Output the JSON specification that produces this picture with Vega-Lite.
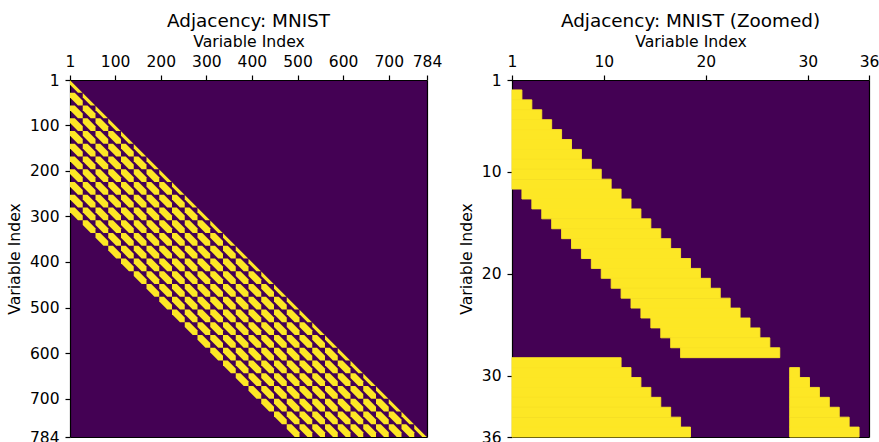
{
 "$schema": "https://vega.github.io/schema/vega-lite/v6.json",
 "padding": {"left": 6, "top": 11, "right": 5, "bottom": 5},
 "bounds": "flush",
 "spacing": 85,
 "config": {
  "font": "DejaVu Sans",
  "view": {"fill": "#440154", "stroke": null},
  "axis": {"labelFontSize": 15.5, "titleFontSize": 15.7, "titleFontWeight": "normal", "labelColor": "#000", "titleColor": "#000", "tickColor": "#000", "domainColor": "#000", "tickSize": 5, "tickWidth": 1.2, "domainWidth": 1.2, "labelPadding": 6, "grid": false, "zindex": 1, "labelFlush": false, "labelOverlap": false, "labelBound": false, "titlePadding": 5},
  "axisLeft": {"titlePadding": 7},
  "title": {"fontSize": 18.4, "fontWeight": "normal", "color": "#000", "frame": "group", "anchor": "middle", "offset": 3}
 },
 "hconcat": [
  {
   "width": 357, "height": 357,
   "title": {"text": "Adjacency: MNIST"},
   "layer": [
    {
     "data": {"values": [
      {"x":14,"y":14,"k":"d"},{"x":42,"y":42,"k":"d"},{"x":70,"y":70,"k":"d"},{"x":98,"y":98,"k":"d"},{"x":126,"y":126,"k":"d"},{"x":154,"y":154,"k":"d"},{"x":182,"y":182,"k":"d"},{"x":210,"y":210,"k":"d"},{"x":238,"y":238,"k":"d"},{"x":266,"y":266,"k":"d"},{"x":294,"y":294,"k":"d"},{"x":322,"y":322,"k":"d"},{"x":350,"y":350,"k":"d"},{"x":378,"y":378,"k":"d"},{"x":406,"y":406,"k":"d"},{"x":434,"y":434,"k":"d"},{"x":462,"y":462,"k":"d"},{"x":490,"y":490,"k":"d"},{"x":518,"y":518,"k":"d"},{"x":546,"y":546,"k":"d"},{"x":574,"y":574,"k":"d"},{"x":602,"y":602,"k":"d"},{"x":630,"y":630,"k":"d"},{"x":658,"y":658,"k":"d"},{"x":686,"y":686,"k":"d"},{"x":714,"y":714,"k":"d"},{"x":742,"y":742,"k":"d"},{"x":770,"y":770,"k":"d"},
      {"x":14,"y":42,"k":"b"},
      {"x":14,"y":70,"k":"b"},{"x":42,"y":70,"k":"b"},
      {"x":14,"y":98,"k":"b"},{"x":42,"y":98,"k":"b"},{"x":70,"y":98,"k":"b"},
      {"x":14,"y":126,"k":"b"},{"x":42,"y":126,"k":"b"},{"x":70,"y":126,"k":"b"},{"x":98,"y":126,"k":"b"},
      {"x":14,"y":154,"k":"b"},{"x":42,"y":154,"k":"b"},{"x":70,"y":154,"k":"b"},{"x":98,"y":154,"k":"b"},{"x":126,"y":154,"k":"b"},
      {"x":14,"y":182,"k":"b"},{"x":42,"y":182,"k":"b"},{"x":70,"y":182,"k":"b"},{"x":98,"y":182,"k":"b"},{"x":126,"y":182,"k":"b"},{"x":154,"y":182,"k":"b"},
      {"x":14,"y":210,"k":"b"},{"x":42,"y":210,"k":"b"},{"x":70,"y":210,"k":"b"},{"x":98,"y":210,"k":"b"},{"x":126,"y":210,"k":"b"},{"x":154,"y":210,"k":"b"},{"x":182,"y":210,"k":"b"},
      {"x":14,"y":238,"k":"b"},{"x":42,"y":238,"k":"b"},{"x":70,"y":238,"k":"b"},{"x":98,"y":238,"k":"b"},{"x":126,"y":238,"k":"b"},{"x":154,"y":238,"k":"b"},{"x":182,"y":238,"k":"b"},{"x":210,"y":238,"k":"b"},
      {"x":14,"y":266,"k":"b"},{"x":42,"y":266,"k":"b"},{"x":70,"y":266,"k":"b"},{"x":98,"y":266,"k":"b"},{"x":126,"y":266,"k":"b"},{"x":154,"y":266,"k":"b"},{"x":182,"y":266,"k":"b"},{"x":210,"y":266,"k":"b"},{"x":238,"y":266,"k":"b"},
      {"x":14,"y":294,"k":"b"},{"x":42,"y":294,"k":"b"},{"x":70,"y":294,"k":"b"},{"x":98,"y":294,"k":"b"},{"x":126,"y":294,"k":"b"},{"x":154,"y":294,"k":"b"},{"x":182,"y":294,"k":"b"},{"x":210,"y":294,"k":"b"},{"x":238,"y":294,"k":"b"},{"x":266,"y":294,"k":"b"},
      {"x":42,"y":322,"k":"b"},{"x":70,"y":322,"k":"b"},{"x":98,"y":322,"k":"b"},{"x":126,"y":322,"k":"b"},{"x":154,"y":322,"k":"b"},{"x":182,"y":322,"k":"b"},{"x":210,"y":322,"k":"b"},{"x":238,"y":322,"k":"b"},{"x":266,"y":322,"k":"b"},{"x":294,"y":322,"k":"b"},
      {"x":70,"y":350,"k":"b"},{"x":98,"y":350,"k":"b"},{"x":126,"y":350,"k":"b"},{"x":154,"y":350,"k":"b"},{"x":182,"y":350,"k":"b"},{"x":210,"y":350,"k":"b"},{"x":238,"y":350,"k":"b"},{"x":266,"y":350,"k":"b"},{"x":294,"y":350,"k":"b"},{"x":322,"y":350,"k":"b"},
      {"x":98,"y":378,"k":"b"},{"x":126,"y":378,"k":"b"},{"x":154,"y":378,"k":"b"},{"x":182,"y":378,"k":"b"},{"x":210,"y":378,"k":"b"},{"x":238,"y":378,"k":"b"},{"x":266,"y":378,"k":"b"},{"x":294,"y":378,"k":"b"},{"x":322,"y":378,"k":"b"},{"x":350,"y":378,"k":"b"},
      {"x":126,"y":406,"k":"b"},{"x":154,"y":406,"k":"b"},{"x":182,"y":406,"k":"b"},{"x":210,"y":406,"k":"b"},{"x":238,"y":406,"k":"b"},{"x":266,"y":406,"k":"b"},{"x":294,"y":406,"k":"b"},{"x":322,"y":406,"k":"b"},{"x":350,"y":406,"k":"b"},{"x":378,"y":406,"k":"b"},
      {"x":154,"y":434,"k":"b"},{"x":182,"y":434,"k":"b"},{"x":210,"y":434,"k":"b"},{"x":238,"y":434,"k":"b"},{"x":266,"y":434,"k":"b"},{"x":294,"y":434,"k":"b"},{"x":322,"y":434,"k":"b"},{"x":350,"y":434,"k":"b"},{"x":378,"y":434,"k":"b"},{"x":406,"y":434,"k":"b"},
      {"x":182,"y":462,"k":"b"},{"x":210,"y":462,"k":"b"},{"x":238,"y":462,"k":"b"},{"x":266,"y":462,"k":"b"},{"x":294,"y":462,"k":"b"},{"x":322,"y":462,"k":"b"},{"x":350,"y":462,"k":"b"},{"x":378,"y":462,"k":"b"},{"x":406,"y":462,"k":"b"},{"x":434,"y":462,"k":"b"},
      {"x":210,"y":490,"k":"b"},{"x":238,"y":490,"k":"b"},{"x":266,"y":490,"k":"b"},{"x":294,"y":490,"k":"b"},{"x":322,"y":490,"k":"b"},{"x":350,"y":490,"k":"b"},{"x":378,"y":490,"k":"b"},{"x":406,"y":490,"k":"b"},{"x":434,"y":490,"k":"b"},{"x":462,"y":490,"k":"b"},
      {"x":238,"y":518,"k":"b"},{"x":266,"y":518,"k":"b"},{"x":294,"y":518,"k":"b"},{"x":322,"y":518,"k":"b"},{"x":350,"y":518,"k":"b"},{"x":378,"y":518,"k":"b"},{"x":406,"y":518,"k":"b"},{"x":434,"y":518,"k":"b"},{"x":462,"y":518,"k":"b"},{"x":490,"y":518,"k":"b"},
      {"x":266,"y":546,"k":"b"},{"x":294,"y":546,"k":"b"},{"x":322,"y":546,"k":"b"},{"x":350,"y":546,"k":"b"},{"x":378,"y":546,"k":"b"},{"x":406,"y":546,"k":"b"},{"x":434,"y":546,"k":"b"},{"x":462,"y":546,"k":"b"},{"x":490,"y":546,"k":"b"},{"x":518,"y":546,"k":"b"},
      {"x":294,"y":574,"k":"b"},{"x":322,"y":574,"k":"b"},{"x":350,"y":574,"k":"b"},{"x":378,"y":574,"k":"b"},{"x":406,"y":574,"k":"b"},{"x":434,"y":574,"k":"b"},{"x":462,"y":574,"k":"b"},{"x":490,"y":574,"k":"b"},{"x":518,"y":574,"k":"b"},{"x":546,"y":574,"k":"b"},
      {"x":322,"y":602,"k":"b"},{"x":350,"y":602,"k":"b"},{"x":378,"y":602,"k":"b"},{"x":406,"y":602,"k":"b"},{"x":434,"y":602,"k":"b"},{"x":462,"y":602,"k":"b"},{"x":490,"y":602,"k":"b"},{"x":518,"y":602,"k":"b"},{"x":546,"y":602,"k":"b"},{"x":574,"y":602,"k":"b"},
      {"x":350,"y":630,"k":"b"},{"x":378,"y":630,"k":"b"},{"x":406,"y":630,"k":"b"},{"x":434,"y":630,"k":"b"},{"x":462,"y":630,"k":"b"},{"x":490,"y":630,"k":"b"},{"x":518,"y":630,"k":"b"},{"x":546,"y":630,"k":"b"},{"x":574,"y":630,"k":"b"},{"x":602,"y":630,"k":"b"},
      {"x":378,"y":658,"k":"b"},{"x":406,"y":658,"k":"b"},{"x":434,"y":658,"k":"b"},{"x":462,"y":658,"k":"b"},{"x":490,"y":658,"k":"b"},{"x":518,"y":658,"k":"b"},{"x":546,"y":658,"k":"b"},{"x":574,"y":658,"k":"b"},{"x":602,"y":658,"k":"b"},{"x":630,"y":658,"k":"b"},
      {"x":406,"y":686,"k":"b"},{"x":434,"y":686,"k":"b"},{"x":462,"y":686,"k":"b"},{"x":490,"y":686,"k":"b"},{"x":518,"y":686,"k":"b"},{"x":546,"y":686,"k":"b"},{"x":574,"y":686,"k":"b"},{"x":602,"y":686,"k":"b"},{"x":630,"y":686,"k":"b"},{"x":658,"y":686,"k":"b"},
      {"x":434,"y":714,"k":"b"},{"x":462,"y":714,"k":"b"},{"x":490,"y":714,"k":"b"},{"x":518,"y":714,"k":"b"},{"x":546,"y":714,"k":"b"},{"x":574,"y":714,"k":"b"},{"x":602,"y":714,"k":"b"},{"x":630,"y":714,"k":"b"},{"x":658,"y":714,"k":"b"},{"x":686,"y":714,"k":"b"},
      {"x":462,"y":742,"k":"b"},{"x":490,"y":742,"k":"b"},{"x":518,"y":742,"k":"b"},{"x":546,"y":742,"k":"b"},{"x":574,"y":742,"k":"b"},{"x":602,"y":742,"k":"b"},{"x":630,"y":742,"k":"b"},{"x":658,"y":742,"k":"b"},{"x":686,"y":742,"k":"b"},{"x":714,"y":742,"k":"b"},
      {"x":490,"y":770,"k":"b"},{"x":518,"y":770,"k":"b"},{"x":546,"y":770,"k":"b"},{"x":574,"y":770,"k":"b"},{"x":602,"y":770,"k":"b"},{"x":630,"y":770,"k":"b"},{"x":658,"y":770,"k":"b"},{"x":686,"y":770,"k":"b"},{"x":714,"y":770,"k":"b"},{"x":742,"y":770,"k":"b"}
     ]},
     "mark": {"type": "point", "filled": true, "size": 162.6, "color": "#fde725", "opacity": 1, "strokeWidth": 0},
     "encoding": {
      "x": {"field": "x", "type": "quantitative", "scale": {"domain": [0, 784], "nice": false, "zero": false}, "axis": {"orient": "bottom", "labels": false, "ticks": false, "title": null}},
      "y": {"field": "y", "type": "quantitative", "scale": {"domain": [0, 784], "nice": false, "zero": false, "reverse": true}, "axis": {"orient": "right", "labels": false, "ticks": false, "title": null}},
      "shape": {"field": "k", "type": "nominal", "scale": {"domain": ["b", "d"], "range": ["M-1,-1L-0.25,-1L1,0.25L1,1L0.25,1L-1,-0.25Z", "M-1,-0.964L-1,-0.25L0.25,1L0.964,1Z"]}, "legend": null}
     }
    },
    {
     "data": {"values": [{"v": 1}, {"v": 784}]},
     "mark": {"type": "point", "opacity": 0},
     "encoding": {
      "x": {"field": "v", "type": "quantitative", "scale": {"domain": [1, 784], "nice": false, "zero": false}, "axis": {"orient": "top", "values": [1, 100, 200, 300, 400, 500, 600, 700, 784], "title": "Variable Index"}},
      "y": {"field": "v", "type": "quantitative", "scale": {"domain": [1, 784], "nice": false, "zero": false, "reverse": true}, "axis": {"orient": "left", "values": [1, 100, 200, 300, 400, 500, 600, 700, 784], "title": "Variable Index"}}
     }
    }
   ],
   "resolve": {"scale": {"x": "independent", "y": "independent"}}
  },
  {
   "width": 357, "height": 357,
   "title": {"text": "Adjacency: MNIST (Zoomed)"},
   "layer": [
    {
     "data": {"values": [
      {"y0":1,"y1":2,"x0":0,"x1":1},
      {"y0":2,"y1":3,"x0":0,"x1":2},
      {"y0":3,"y1":4,"x0":0,"x1":3},
      {"y0":4,"y1":5,"x0":0,"x1":4},
      {"y0":5,"y1":6,"x0":0,"x1":5},
      {"y0":6,"y1":7,"x0":0,"x1":6},
      {"y0":7,"y1":8,"x0":0,"x1":7},
      {"y0":8,"y1":9,"x0":0,"x1":8},
      {"y0":9,"y1":10,"x0":0,"x1":9},
      {"y0":10,"y1":11,"x0":0,"x1":10},
      {"y0":11,"y1":12,"x0":1,"x1":11},
      {"y0":12,"y1":13,"x0":2,"x1":12},
      {"y0":13,"y1":14,"x0":3,"x1":13},
      {"y0":14,"y1":15,"x0":4,"x1":14},
      {"y0":15,"y1":16,"x0":5,"x1":15},
      {"y0":16,"y1":17,"x0":6,"x1":16},
      {"y0":17,"y1":18,"x0":7,"x1":17},
      {"y0":18,"y1":19,"x0":8,"x1":18},
      {"y0":19,"y1":20,"x0":9,"x1":19},
      {"y0":20,"y1":21,"x0":10,"x1":20},
      {"y0":21,"y1":22,"x0":11,"x1":21},
      {"y0":22,"y1":23,"x0":12,"x1":22},
      {"y0":23,"y1":24,"x0":13,"x1":23},
      {"y0":24,"y1":25,"x0":14,"x1":24},
      {"y0":25,"y1":26,"x0":15,"x1":25},
      {"y0":26,"y1":27,"x0":16,"x1":26},
      {"y0":27,"y1":28,"x0":17,"x1":27},
      {"y0":28,"y1":29,"x0":0,"x1":11},
      {"y0":29,"y1":30,"x0":0,"x1":12},
      {"y0":29,"y1":30,"x0":28,"x1":29},
      {"y0":30,"y1":31,"x0":0,"x1":13},
      {"y0":30,"y1":31,"x0":28,"x1":30},
      {"y0":31,"y1":32,"x0":0,"x1":14},
      {"y0":31,"y1":32,"x0":28,"x1":31},
      {"y0":32,"y1":33,"x0":0,"x1":15},
      {"y0":32,"y1":33,"x0":28,"x1":32},
      {"y0":33,"y1":34,"x0":0,"x1":16},
      {"y0":33,"y1":34,"x0":28,"x1":33},
      {"y0":34,"y1":35,"x0":0,"x1":17},
      {"y0":34,"y1":35,"x0":28,"x1":34},
      {"y0":35,"y1":36,"x0":0,"x1":18},
      {"y0":35,"y1":36,"x0":28,"x1":35}
     ]},
     "mark": {"type": "rect", "color": "#fde725", "stroke": "#fde725", "strokeWidth": 0.9, "opacity": 1},
     "encoding": {
      "x": {"field": "x0", "type": "quantitative", "scale": {"domain": [0, 36], "nice": false, "zero": false}, "axis": {"orient": "bottom", "labels": false, "ticks": false, "title": null}},
      "x2": {"field": "x1"},
      "y": {"field": "y0", "type": "quantitative", "scale": {"domain": [0, 36], "nice": false, "zero": false, "reverse": true}, "axis": {"orient": "right", "labels": false, "ticks": false, "title": null}},
      "y2": {"field": "y1"}
     }
    },
    {
     "data": {"values": [{"v": 1}, {"v": 36}]},
     "mark": {"type": "point", "opacity": 0},
     "encoding": {
      "x": {"field": "v", "type": "quantitative", "scale": {"domain": [1, 36], "nice": false, "zero": false}, "axis": {"orient": "top", "values": [1, 10, 20, 30, 36], "title": "Variable Index"}},
      "y": {"field": "v", "type": "quantitative", "scale": {"domain": [1, 36], "nice": false, "zero": false, "reverse": true}, "axis": {"orient": "left", "values": [1, 10, 20, 30, 36], "title": "Variable Index"}}
     }
    }
   ],
   "resolve": {"scale": {"x": "independent", "y": "independent"}}
  }
 ]
}
